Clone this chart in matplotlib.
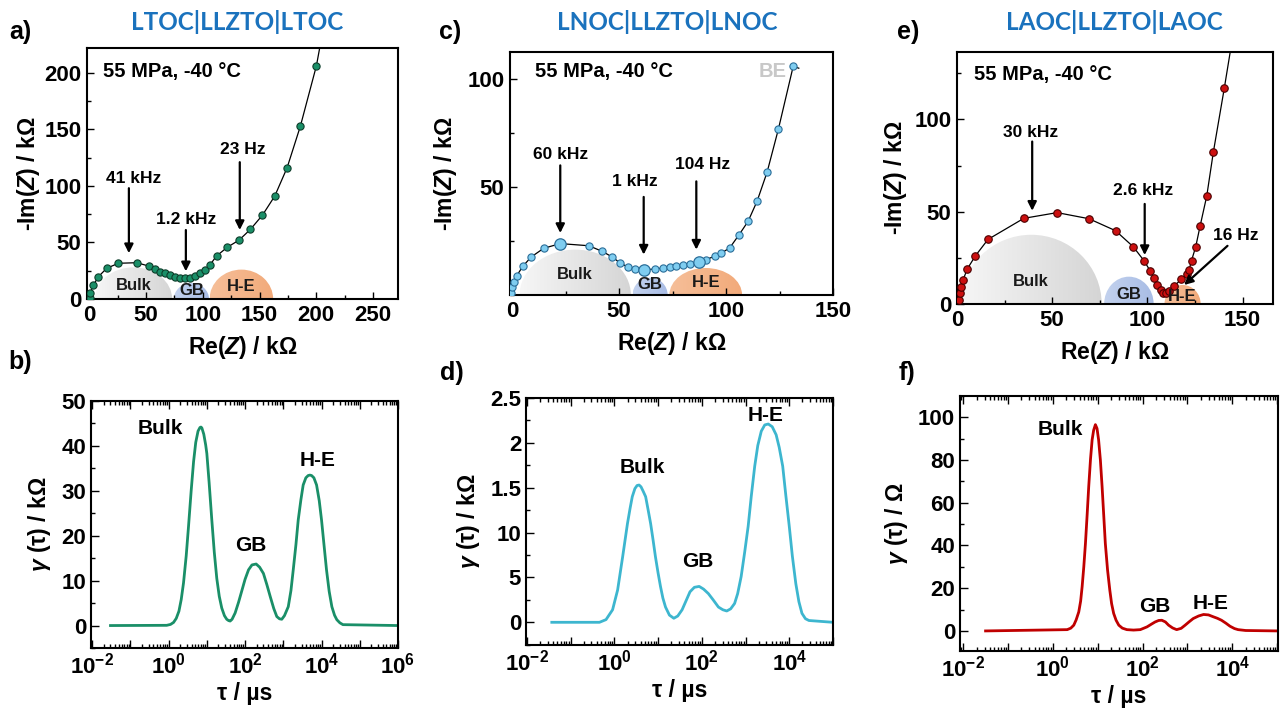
import numpy as np
import matplotlib
matplotlib.use('Agg')
import matplotlib.pyplot as plt
from matplotlib.patches import Ellipse
from matplotlib.colors import LinearSegmentedColormap
from matplotlib.ticker import MultipleLocator, LogLocator, NullFormatter, FixedLocator, FixedFormatter

plt.rcParams['font.family'] = ['Liberation Sans', 'DejaVu Sans']
plt.rcParams['font.weight'] = 'bold'
plt.rcParams['mathtext.fontset'] = 'custom'
plt.rcParams['mathtext.rm'] = 'Liberation Sans:bold'
plt.rcParams['mathtext.it'] = 'Liberation Sans:bold:italic'
plt.rcParams['mathtext.bf'] = 'Liberation Sans:bold'
plt.rcParams['axes.linewidth'] = 1.5

# ---------------- data ----------------
titles = ['LTOC|LLZTO|LTOC', 'LNOC|LLZTO|LNOC', 'LAOC|LLZTO|LAOC']
condition = '55 MPa, -40 °C'
shape_names = ['Bulk', 'GB', 'H-E']

# panel a (Nyquist, LTOC)
a_re = [0.3, 0.7, 3.7, 8.1, 15.4, 25.7, 41.9, 52.2, 58.0, 62.4, 66.8, 71.3, 75.7, 80.1, 84.5,
        88.9, 93.3, 97.7, 102.1, 106.2, 112.1, 121.5, 132.0, 142.0, 152.6, 163.4, 174.3, 186.0, 200.1]
a_im = [1.0, 5.0, 12.4, 19.8, 27.2, 31.6, 32.1, 29.2, 26.3, 24.2, 22.7, 21.0, 19.8, 18.9, 18.3,
        18.9, 20.4, 22.7, 25.7, 30.0, 38.0, 45.7, 52.1, 61.6, 74.2, 91.0, 116.1, 152.9, 206.2]
a_fit_tail_re = [203.0]
a_fit_tail_im = [222.0]
a_freq_labels = ['41 kHz', '1.2 kHz', '23 Hz']
a_shape_cx = [39.0, 90.0, 134.0]
a_shape_hw = [34.0, 15.5, 28.0]
a_shape_h = [28.0, 14.0, 26.0]

# panel c (Nyquist, LNOC)
c_re = [-0.5, 0.0, 0.8, 2.2, 5.0, 8.9, 14.7, 22.5, 35.9, 42.1, 46.8, 50.5, 54.1, 57.3, 61.5, 66.6,
        70.5, 73.6, 76.4, 79.9, 83.3, 87.4, 90.5, 94.7, 97.8, 101.7, 106.1, 110.3, 114.5, 119.2, 124.5, 131.4]
c_im = [0.9, 3.7, 5.9, 9.0, 13.3, 17.6, 21.6, 23.8, 22.8, 20.2, 17.6, 14.8, 13.0, 12.0, 11.7, 12.0,
        12.5, 13.0, 13.3, 13.7, 14.5, 15.3, 16.4, 17.9, 19.4, 21.8, 27.9, 34.1, 43.4, 56.9, 76.9, 105.9]
c_fit_tail_re = [134.0]
c_fit_tail_im = [105.0]
c_big_idx = [7, 14, 21]
c_freq_labels = ['60 kHz', '1 kHz', '104 Hz']
c_shape_cx = [29.5, 64.5, 90.5]
c_shape_hw = [26.0, 8.2, 17.0]
c_shape_h = [21.0, 8.0, 12.5]

# panel e (Nyquist, LAOC)
e_re = [0.9, 1.4, 2.1, 3.2, 5.3, 9.6, 16.3, 35.1, 52.6, 69.3, 83.3, 92.6, 98.2, 101.4, 103.5, 105.3,
        107.0, 108.4, 109.6, 111.4, 114.0, 117.9, 120.7, 121.9, 123.2, 125.4, 127.7, 131.2, 134.7, 140.4]
e_im = [2.2, 5.8, 9.0, 13.0, 18.8, 26.0, 35.0, 46.4, 49.5, 46.2, 39.7, 31.0, 23.5, 18.1, 13.9, 10.3,
        7.6, 6.1, 5.8, 7.2, 9.7, 13.4, 16.2, 18.4, 23.5, 31.0, 42.2, 58.5, 82.5, 116.8]
e_fit_tail_re = [143.6]
e_fit_tail_im = [137.0]
e_freq_labels = ['30 kHz', '2.6 kHz', '16 Hz']
e_shape_cx = [39.0, 90.3, 118.5]
e_shape_hw = [37.0, 13.0, 9.5]
e_shape_h = [37.5, 14.8, 10.3]

# panel b (DRT, LTOC)  log10(tau / us) and gamma / kOhm
b_logtau = [-1.52, -0.05, 0.05, 0.13, 0.20, 0.27, 0.33, 0.39, 0.46, 0.52, 0.59, 0.653, 0.71, 0.77, 0.82,
            0.846, 0.87, 0.92, 0.97, 1.0, 1.06, 1.13, 1.195, 1.26, 1.325, 1.39, 1.46, 1.52, 1.57, 1.61,
            1.66, 1.74, 1.83, 1.92, 2.0, 2.09, 2.18, 2.29, 2.38, 2.48, 2.57, 2.66, 2.75, 2.83, 2.90,
            2.96, 3.03, 3.13, 3.20, 3.26, 3.33, 3.39, 3.46, 3.52, 3.59, 3.65, 3.695, 3.74, 3.80, 3.87,
            3.94, 4.0, 4.07, 4.13, 4.20, 4.27, 4.34, 4.40, 4.48, 4.56, 6.0]
b_gamma = [0, 0.05, 0.25, 0.7, 1.6, 3.2, 5.8, 9.5, 15.5, 22.0, 30.0, 36.5, 40.8, 43.3, 44.1,
           44.2, 44.0, 42.6, 40.2, 38.3, 31.8, 23.5, 16.3, 10.5, 6.5, 3.9, 2.2, 1.4, 1.1, 1.0,
           1.4, 2.8, 5.2, 7.9, 10.3, 12.4, 13.5, 13.7, 13.0, 11.6, 9.1, 6.4, 3.8, 2.0, 1.5,
           1.4, 2.2, 4.2, 7.8, 12.4, 18.0, 23.5, 28.0, 31.3, 32.9, 33.4, 33.5, 33.4, 32.9, 31.3,
           27.8, 23.5, 17.5, 12.4, 7.6, 4.2, 2.3, 1.3, 0.6, 0.2, 0]
b_peak_logtau = [-0.23, 2.15, 3.90]
b_peak_lab_y = [43.9, 17.9, 36.8]

# panel d (DRT, LNOC)
d_logtau = [-1.43, -0.34, -0.19, -0.04, 0.075, 0.19, 0.30, 0.36, 0.41, 0.47, 0.52, 0.566, 0.61, 0.66,
            0.716, 0.77, 0.83, 0.885, 0.94, 1.0, 1.055, 1.11, 1.17, 1.26, 1.36, 1.45, 1.55, 1.64, 1.73,
            1.83, 1.94, 2.04, 2.15, 2.26, 2.38, 2.48, 2.57, 2.66, 2.75, 2.82, 2.90, 2.98, 3.06, 3.13,
            3.21, 3.28, 3.36, 3.44, 3.52, 3.61, 3.70, 3.77, 3.85, 3.92, 4.0, 4.07, 4.15, 4.22, 4.29,
            4.37, 4.45, 5.0]
d_gamma = [0, 0, 0.03, 0.14, 0.36, 0.73, 1.10, 1.27, 1.40, 1.49, 1.525, 1.53, 1.51, 1.46,
           1.40, 1.26, 1.10, 0.92, 0.73, 0.55, 0.40, 0.27, 0.17, 0.08, 0.045, 0.07, 0.14, 0.24, 0.34,
           0.39, 0.40, 0.37, 0.32, 0.25, 0.17, 0.14, 0.126, 0.15, 0.21, 0.32, 0.51, 0.78, 1.07, 1.40,
           1.74, 1.97, 2.13, 2.20, 2.21, 2.18, 2.09, 1.95, 1.74, 1.42, 1.07, 0.74, 0.43, 0.23, 0.10,
           0.04, 0.02, 0]
d_peak_logtau = [0.64, 1.91, 3.46]
d_peak_lab_y = [1.72, 0.68, 2.31]
d_yticks = [0, 0.5, 1.0, 1.5, 2.0, 2.5]
d_yticklabels = ['0', '5', '10', '1.5', '2', '2.5']

# panel f (DRT, LAOC)  gamma / Ohm
f_logtau = [-1.5, 0.32, 0.40, 0.467, 0.52, 0.578, 0.62, 0.653, 0.69, 0.727, 0.765, 0.80, 0.84, 0.876,
            0.91, 0.949, 0.985, 1.02, 1.06, 1.098, 1.135, 1.17, 1.22, 1.27, 1.31, 1.356, 1.41, 1.47,
            1.55, 1.65, 1.80, 1.95, 2.10, 2.20, 2.28, 2.36, 2.43, 2.51, 2.58, 2.67, 2.76, 2.86, 2.95,
            3.04, 3.13, 3.25, 3.36, 3.47, 3.58, 3.67, 3.76, 3.86, 3.95, 4.05, 4.13, 4.3, 5.0]
f_gamma = [0, 0.6, 1.3, 2.7, 5.2, 8.9, 14.0, 20.7, 30.0, 41.0, 54.5, 67.6, 80.5, 89.5,
           94.0, 96.6, 94.8, 89.5, 80.0, 67.6, 54.0, 41.0, 28.5, 19.1, 12.8, 8.2, 5.0, 2.7,
           1.3, 0.6, 0.4, 0.6, 1.9, 3.2, 4.2, 4.9, 5.0, 4.2, 2.7, 1.4, 0.6, 1.2, 2.7,
           4.3, 5.8, 7.0, 7.7, 7.5, 6.6, 5.9, 5.0, 3.6, 2.2, 1.1, 0.6, 0.2, 0]
f_peak_logtau = [0.17, 2.28, 3.52]
f_peak_lab_y = [94.2, 11.6, 12.8]

# ---------------- styling ----------------
GREEN = '#1a8f68'
BLUE_L = '#7fcdf0'
CYAN = '#3db6cf'
RED = '#c00000'
TITLE_BLUE = '#1a72bd'
shape_colors = [['#f6f6f6', '#d5d5d5'], ['#c3d2ee', '#a8bce5'], ['#f6bf99', '#f2aa7a']]
TICK_FS = 16
LAB_FS = 16.5
NOTE_FS = 14.5
FREQ_FS = 12.5
SHAPE_FS = 12
PEAK_FS = 15

fig = plt.figure(figsize=(12.83, 7.09), dpi=100)

def px_axes(l, t, r, b):
    W, H = 1283.0, 709.0
    return fig.add_axes([l / W, 1 - b / H, (r - l) / W, (b - t) / H])

def add_shapes(ax, cxs, hws, hs, label_dy):
    for i, (cx, hw, h) in enumerate(zip(cxs, hws, hs)):
        ell = Ellipse((cx, 0), 2 * hw, 2 * h, facecolor='none', edgecolor='none')
        ax.add_patch(ell)
        cmap = LinearSegmentedColormap.from_list('g%d' % i, shape_colors[i])
        im = ax.imshow(np.linspace(0, 1, 256)[None, :], extent=[cx - hw, cx + hw, 0, h],
                       cmap=cmap, aspect='auto', origin='lower', zorder=1,
                       interpolation='bilinear')
        im.set_clip_path(ell)
        ax.text(cx, h * label_dy[i], shape_names[i], ha='center', va='center',
                fontsize=SHAPE_FS, fontweight='bold', color='#1a1a1a', zorder=6)

def style_nyq(ax, xlim, ylim, xmaj, ymaj, xmin, ymin, ylabel_pad=4):
    ax.set_xlim(*xlim)
    ax.set_ylim(*ylim)
    ax.xaxis.set_major_locator(MultipleLocator(xmaj))
    ax.yaxis.set_major_locator(MultipleLocator(ymaj))
    ax.xaxis.set_minor_locator(MultipleLocator(xmin))
    ax.yaxis.set_minor_locator(MultipleLocator(ymin))
    ax.tick_params(which='both', direction='in', labelsize=TICK_FS, width=1.0)
    ax.tick_params(which='major', length=5, pad=4)
    ax.tick_params(which='minor', length=3)
    ax.set_xlabel('Re($\\mathit{Z}$) / kΩ', fontsize=LAB_FS, fontweight='bold', labelpad=6)
    ax.set_ylabel('-Im($\\mathit{Z}$) / kΩ', fontsize=LAB_FS, fontweight='bold', labelpad=ylabel_pad)
    for lab in ax.get_xticklabels() + ax.get_yticklabels():
        lab.set_fontweight('bold')

def arrow(ax, x0, y0, x1, y1):
    ax.annotate('', xy=(x1, y1), xytext=(x0, y0), zorder=7,
                arrowprops=dict(arrowstyle='-|>', color='black', lw=1.6, mutation_scale=13,
                                shrinkA=0, shrinkB=0))

def note(ax, x, y, s):
    ax.text(x, y, s, ha='center', va='center', fontsize=FREQ_FS, fontweight='bold')

# ---------- panel a ----------
ax = px_axes(87, 48, 398, 299)
add_shapes(ax, a_shape_cx, a_shape_hw, a_shape_h, [0.42, 0.55, 0.42])
ax.plot(a_re + a_fit_tail_re, a_im + a_fit_tail_im, color='black', lw=0.9, zorder=3)
ax.plot(a_re, a_im, 'o', ms=5.2, mfc=GREEN, mec='#0d3d2a', mew=0.8, zorder=4)
style_nyq(ax, (-2, 272), (0, 222), 50, 50, 25, 25, ylabel_pad=2)
ax.text(12, 201, condition, fontsize=NOTE_FS, fontweight='bold', va='center', ha='left')
arrow(ax, 34.9, 98, 34.9, 40.5)
note(ax, 38.7, 106.6, a_freq_labels[0])
arrow(ax, 85.1, 61, 85.1, 24.5)
note(ax, 85.1, 70.7, a_freq_labels[1])
arrow(ax, 132.6, 121, 132.6, 61)
note(ax, 135.6, 132.5, a_freq_labels[2])

# ---------- panel c ----------
ax = px_axes(510, 52, 833, 295)
add_shapes(ax, c_shape_cx, c_shape_hw, c_shape_h, [0.45, 0.6, 0.45])
ax.plot(c_re + c_fit_tail_re, c_im + c_fit_tail_im, color='black', lw=0.9, zorder=3)
small = [i for i in range(len(c_re)) if i not in c_big_idx]
ax.plot([c_re[i] for i in small], [c_im[i] for i in small], 'o', ms=5.2, mfc=BLUE_L,
        mec='#2b6e99', mew=0.8, zorder=4)
ax.plot([c_re[i] for i in c_big_idx], [c_im[i] for i in c_big_idx], 'o', ms=8.2, mfc=BLUE_L,
        mec='#2b6e99', mew=0.9, zorder=5)
style_nyq(ax, (-1, 150), (0, 112.5), 50, 50, 25, 25, ylabel_pad=6)
ax.set_yticks([50, 100])
ax.text(10.5, 103.5, condition, fontsize=NOTE_FS, fontweight='bold', va='center', ha='left')
ax.text(122, 103.5, 'BE', fontsize=NOTE_FS, fontweight='bold', va='center', ha='center', color='#c8c8c8')
arrow(ax, 22.5, 60, 22.5, 28.7)
note(ax, 22.5, 65, c_freq_labels[0])
arrow(ax, 61.5, 45.4, 61.5, 18.7)
note(ax, 57.3, 52.6, c_freq_labels[1])
arrow(ax, 86.1, 52.6, 86.1, 21.0)
note(ax, 89.2, 60.3, c_freq_labels[2])

# ---------- panel e ----------
ax = px_axes(957, 52, 1273, 304)
add_shapes(ax, e_shape_cx, e_shape_hw, e_shape_h, [0.32, 0.36, 0.38])
ax.plot(e_re + e_fit_tail_re, e_im + e_fit_tail_im, color='black', lw=0.9, zorder=3)
ax.plot(e_re, e_im, 'o', ms=5.4, mfc='#cc1010', mec='#4a0000', mew=0.8, zorder=4)
style_nyq(ax, (0, 166), (0, 136.5), 50, 50, 25, 25)
ax.text(9.1, 124.5, condition, fontsize=NOTE_FS, fontweight='bold', va='center', ha='left')
arrow(ax, 39.5, 88, 39.5, 50.5)
note(ax, 38.9, 92.8, e_freq_labels[0])
arrow(ax, 98.6, 54.2, 98.6, 26.5)
note(ax, 97.9, 61.4, e_freq_labels[1])
arrow(ax, 142.1, 31.5, 119.3, 10.3)
note(ax, 146.5, 37.0, e_freq_labels[2])

# ---------- DRT panels ----------
def style_drt(ax, xlim_log, ylim, yticks, yticklabels, yminor, ylabel, last_decade):
    ax.set_xscale('log')
    ax.set_xlim(10 ** xlim_log[0], 10 ** xlim_log[1])
    ax.set_ylim(*ylim)
    decades = list(range(-2, last_decade + 1))
    ax.xaxis.set_major_locator(FixedLocator([10.0 ** k for k in decades]))
    labs = ['$\\mathbf{10^{%d}}$' % k if k % 2 == 0 else '' for k in decades]
    ax.xaxis.set_major_formatter(FixedFormatter(labs))
    ax.xaxis.set_minor_locator(LogLocator(base=10, subs=np.arange(2, 10), numticks=50))
    ax.xaxis.set_minor_formatter(NullFormatter())
    ax.set_yticks(yticks)
    ax.set_yticklabels(yticklabels)
    ax.yaxis.set_minor_locator(MultipleLocator(yminor))
    ax.tick_params(which='both', direction='in', labelsize=TICK_FS, width=1.0, top=True)
    ax.tick_params(which='major', length=6)
    ax.tick_params(which='minor', length=3)
    ax.set_xlabel('τ / µs', fontsize=LAB_FS, fontweight='bold', labelpad=2)
    ax.set_ylabel(ylabel, fontsize=LAB_FS, fontweight='bold', labelpad=6)
    for lab in ax.get_xticklabels() + ax.get_yticklabels():
        lab.set_fontweight('bold')

def peak_labels(ax, logs, ys):
    for name, lt, y in zip(shape_names, logs, ys):
        ax.text(10 ** lt, y, name, ha='center', va='center', fontsize=PEAK_FS, fontweight='bold')

ax = px_axes(91, 401, 398, 648)
ax.plot(10 ** np.array(b_logtau), b_gamma, color=GREEN, lw=2.0)
style_drt(ax, (-2.03, 6.0), (-5, 50), [0, 10, 20, 30, 40, 50], ['0', '10', '20', '30', '40', '50'],
          5, '$\\mathit{\\gamma}$ (τ) / kΩ', 6)
peak_labels(ax, b_peak_logtau, b_peak_lab_y)

ax = px_axes(526, 398, 833, 645)
ax.plot(10 ** np.array(d_logtau), d_gamma, color=CYAN, lw=2.0)
style_drt(ax, (-2.02, 5.0), (-0.253, 2.5), d_yticks, d_yticklabels, 0.25,
          '$\\mathit{\\gamma}$ (τ) / kΩ', 5)
peak_labels(ax, d_peak_logtau, d_peak_lab_y)

ax = px_axes(960, 396, 1278, 651)
ax.plot(10 ** np.array(f_logtau), f_gamma, color=RED, lw=2.0)
style_drt(ax, (-2.07, 5.02), (-9.4, 110), [0, 20, 40, 60, 80, 100],
          ['0', '20', '40', '60', '80', '100'], 10, '$\\mathit{\\gamma}$ (τ) / Ω', 5)
peak_labels(ax, f_peak_logtau, f_peak_lab_y)

# ---------- titles and panel letters ----------
for x, t in zip([237, 667, 1114], titles):
    fig.text(x / 1283, 1 - 22 / 709, t, ha='center', va='center', fontsize=17.5,
             fontweight='bold', color=TITLE_BLUE, family=['Lato', 'Liberation Sans'])
for (x, y), s in zip([(20, 32), (20, 362), (450, 32), (452, 373), (908, 32), (907, 373)],
                     ['a)', 'b)', 'c)', 'd)', 'e)', 'f)']):
    fig.text(x / 1283, 1 - y / 709, s, ha='center', va='center', fontsize=18, fontweight='bold')

fig.savefig('out.png', dpi=100)
